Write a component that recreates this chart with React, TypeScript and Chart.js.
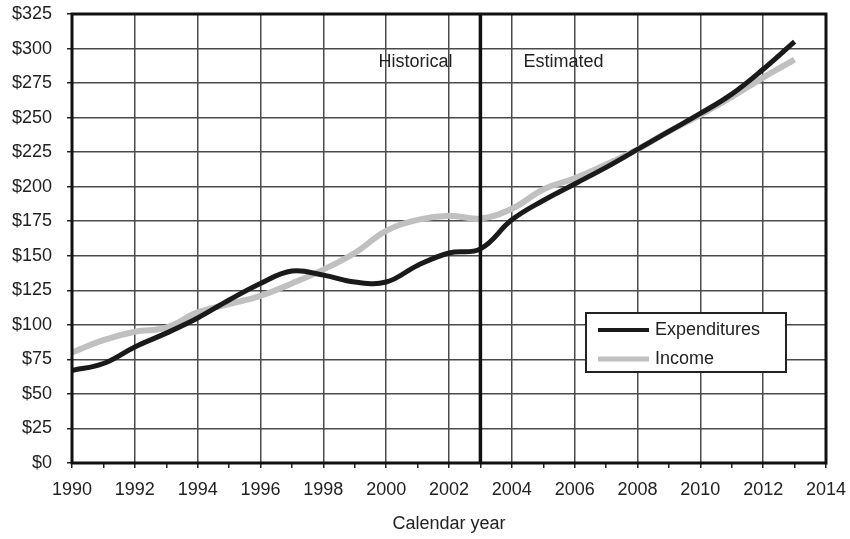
import React, { useEffect, useRef } from "react";
import { Chart, registerables } from "chart.js";

Chart.register(...registerables);

const years = [1990, 1991, 1992, 1993, 1994, 1995, 1996, 1997, 1998, 1999, 2000, 2001, 2002, 2003, 2004, 2005, 2006, 2007, 2008, 2009, 2010, 2011, 2012, 2013];
const expenditures = [67, 72, 84, 94, 105, 118, 130, 139, 136, 131, 131, 143, 152, 155, 176, 190, 202, 214, 227, 240, 253, 267, 285, 305];
const income = [80, 89, 95, 98, 109, 115, 121, 130, 140, 152, 168, 176, 179, 177, 184, 198, 206, 216, 227, 240, 252, 265, 279, 292];
const yTicks = [0, 25, 50, 75, 100, 125, 150, 175, 200, 225, 250, 275, 300, 325];
const seriesLabels = ["Expenditures", "Income"];
const periodLabels = ["Historical", "Estimated"];
const splitYear = 2003;
const xTitle = "Calendar year";

const FONT = "'Liberation Sans', Arial, sans-serif";
const FS = 18;

const overlayPlugin = {
  id: "overlay",
  afterDatasetsDraw(chart: any) {
    const { ctx, chartArea, scales } = chart;
    const xs = scales.x;
    const ys = scales.y;
    ctx.save();
    const sx = xs.getPixelForValue(splitYear);
    ctx.strokeStyle = "#111";
    ctx.lineWidth = 3.5;
    ctx.beginPath();
    ctx.moveTo(sx, chartArea.top);
    ctx.lineTo(sx, chartArea.bottom);
    ctx.stroke();
    ctx.lineWidth = 3;
    ctx.strokeStyle = "#111";
    ctx.strokeRect(chartArea.left, chartArea.top, chartArea.right - chartArea.left, chartArea.bottom - chartArea.top);
    ctx.fillStyle = "#222";
    ctx.font = `${FS}px ${FONT}`;
    ctx.textBaseline = "middle";
    const ty = ys.getPixelForValue(290);
    ctx.textAlign = "right";
    ctx.fillText(periodLabels[0], sx - 28, ty);
    ctx.textAlign = "left";
    ctx.fillText(periodLabels[1], sx + 43, ty);
    const bx = chartArea.right - 240;
    const by = chartArea.bottom - 150;
    const bw = 200;
    const bh = 59;
    ctx.fillStyle = "#fff";
    ctx.fillRect(bx, by, bw, bh);
    ctx.lineWidth = 2;
    ctx.strokeStyle = "#222";
    ctx.strokeRect(bx, by, bw, bh);
    const ds = chart.data.datasets;
    ds.forEach((d: any, i: number) => {
      const ry = by + 17 + i * 29;
      ctx.strokeStyle = d.borderColor;
      ctx.lineWidth = i === 0 ? 4 : 5;
      ctx.beginPath();
      ctx.moveTo(bx + 12, ry);
      ctx.lineTo(bx + 63, ry);
      ctx.stroke();
      ctx.fillStyle = "#222";
      ctx.textAlign = "left";
      ctx.textBaseline = "middle";
      ctx.fillText(d.label, bx + 69, ry);
    });
    ctx.restore();
  },
};

export default function App() {
  const ref = useRef<HTMLCanvasElement | null>(null);
  useEffect(() => {
    document.body.style.margin = "0";
    const canvas = ref.current;
    if (!canvas) return;
    const chart = new Chart(canvas, {
      type: "line",
      data: {
        datasets: [
          {
            label: seriesLabels[0],
            data: years.map((y, i) => ({ x: y, y: expenditures[i] })),
            borderColor: "#1a1a1a",
            borderWidth: 5,
            pointRadius: 0,
            tension: 0.4,
            fill: false,
            order: 1,
          },
          {
            label: seriesLabels[1],
            data: years.map((y, i) => ({ x: y, y: income[i] })),
            borderColor: "#c0c0c0",
            borderWidth: 6,
            pointRadius: 0,
            tension: 0.4,
            fill: false,
            order: 2,
          },
        ],
      },
      options: {
        animation: false,
        responsive: false,
        maintainAspectRatio: false,
        layout: { padding: { top: 14, right: 24, left: 0, bottom: 0 } },
        plugins: {
          legend: { display: false },
          tooltip: { enabled: false },
        },
        scales: {
          x: {
            type: "linear",
            min: 1990,
            max: 2014,
            afterFit: (s: any) => {
              s.height = 76;
              s.paddingLeft = 0;
              s.paddingRight = 0;
            },
            ticks: {
              stepSize: 1,
              autoSkip: false,
              maxRotation: 0,
              padding: 11,
              color: "#222",
              font: { family: FONT, size: FS },
              callback: (v: any) => (Number(v) % 2 === 0 ? String(v) : ""),
            },
            grid: {
              color: (c: any) => (c.tick && c.tick.value % 2 === 0 ? "#4a4a4a" : "rgba(0,0,0,0)"),
              lineWidth: 1.5,
              tickColor: "#222",
              tickLength: 5,
            },
            border: { display: false },
            title: {
              display: true,
              text: xTitle,
              color: "#222",
              font: { family: FONT, size: FS },
              padding: { top: 4, bottom: 4 },
            },
          },
          y: {
            min: 0,
            max: 325,
            afterFit: (s: any) => {
              s.width = 72;
              s.paddingTop = 0;
              s.paddingBottom = 0;
            },
            afterBuildTicks: (s: any) => {
              s.ticks = yTicks.map((v) => ({ value: v }));
            },
            ticks: {
              padding: 15,
              color: "#222",
              font: { family: FONT, size: FS },
              callback: (v: any) => "$" + v,
            },
            grid: {
              color: "#4a4a4a",
              lineWidth: 1.5,
              tickColor: "#222",
              tickLength: 5,
            },
            border: { display: false },
          },
        },
      },
      plugins: [overlayPlugin],
    } as any);
    return () => chart.destroy();
  }, []);
  return (
    <div style={{ width: 850, height: 539, background: "#fff" }}>
      <canvas ref={ref} width={850} height={539} style={{ display: "block" }} />
    </div>
  );
}
